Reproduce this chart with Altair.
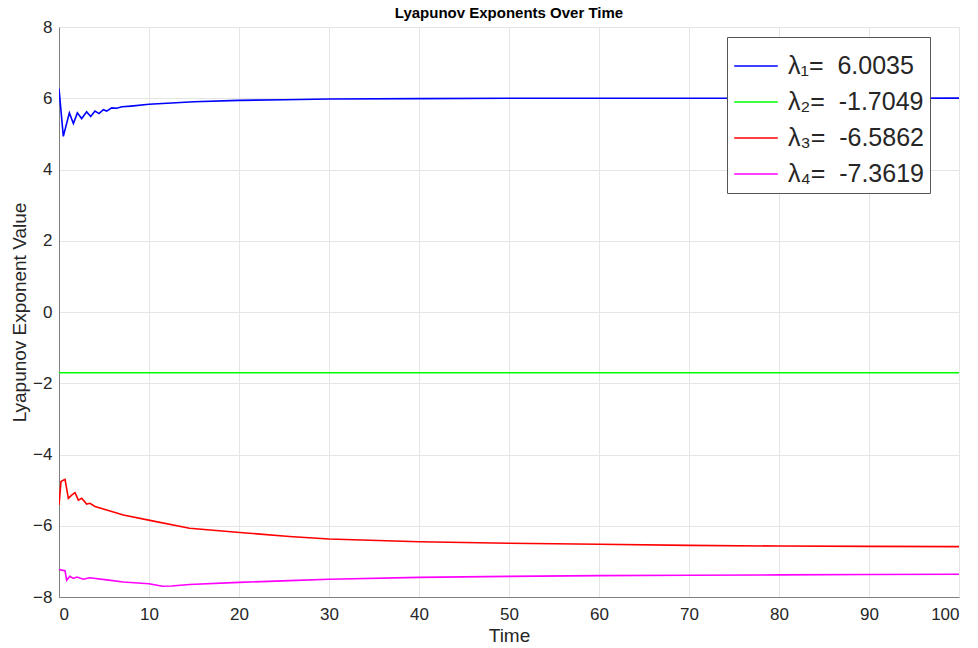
import altair as alt
import pandas as pd

# ---- data ----
NB = "\u00a0"
labels = [f"λ₁={NB}{NB}6.0035", f"λ₂={NB}{NB}-1.7049", f"λ₃={NB}{NB}-6.5862", f"λ₄={NB}{NB}-7.3619"]
colors = ["#0000ff", "#00ff00", "#ff0000", "#ff00ff"]

t1 = [0, 0.48, 1.15, 1.6, 2.04, 2.52, 3.07, 3.52, 4.0, 4.44, 4.93, 5.3, 5.85, 6.4,
      7, 8, 10, 12, 15, 20, 25, 30, 40, 50, 60, 70, 80, 90, 100]
v1 = [6.27, 4.93, 5.59, 5.29, 5.59, 5.43, 5.62, 5.49, 5.64, 5.57, 5.68, 5.64, 5.73, 5.72,
      5.76, 5.78, 5.83, 5.86, 5.90, 5.94, 5.96, 5.98, 5.99, 6.00, 6.00, 6.00, 6.00, 6.00, 6.0035]

t2 = [0, 100]
v2 = [-1.7049, -1.7049]

t3 = [0, 0.22, 0.48, 0.67, 1.04, 1.41, 1.78, 2.15, 2.52, 3.07, 3.44, 4.0, 5.3, 7.15,
      10.1, 14.5, 20.1, 25.6, 30, 40, 50, 60, 70, 80, 90, 100]
v3 = [-5.42, -4.76, -4.72, -4.70, -5.23, -5.14, -5.07, -5.28, -5.23, -5.39, -5.37, -5.46,
      -5.56, -5.70, -5.85, -6.07, -6.19, -6.30, -6.37, -6.45, -6.49, -6.52, -6.55, -6.57,
      -6.58, -6.5862]

t4 = [0, 0.67, 0.85, 1.2, 1.6, 2.0, 2.7, 3.4, 5.3, 7.15, 10, 11.5, 12.5, 14.5, 20, 25.6,
      30, 40, 50, 60, 70, 80, 90, 100]
v4 = [-7.23, -7.26, -7.53, -7.42, -7.48, -7.44, -7.50, -7.46, -7.52, -7.58, -7.63, -7.70,
      -7.69, -7.65, -7.59, -7.54, -7.50, -7.45, -7.42, -7.40, -7.39, -7.38, -7.37, -7.3619]

x_ticks = list(range(0, 101, 10))
y_ticks = list(range(-8, 9, 2))

rows = []
for lab, ts, vs in zip(labels, [t1, t2, t3, t4], [v1, v2, v3, v4]):
    for i, (t, v) in enumerate(zip(ts, vs)):
        rows.append({"series": lab, "t": t, "v": v, "order": i})
df = pd.DataFrame(rows)

FONT = "Liberation Sans"

chart = alt.Chart(df).mark_line(strokeWidth=1.6, clip=True).encode(
    x=alt.X("t:Q", scale=alt.Scale(domain=[0, 100], nice=False),
            axis=alt.Axis(title="Time", values=x_ticks, format="d")),
    y=alt.Y("v:Q", scale=alt.Scale(domain=[-8, 8], nice=False),
            axis=alt.Axis(title="Lyapunov Exponent Value", values=y_ticks, format="d")),
    color=alt.Color("series:N",
                    scale=alt.Scale(domain=labels, range=colors),
                    legend=alt.Legend(title=None, orient="none", legendX=668, legendY=10,
                                      symbolType="stroke", symbolSize=1900,
                                      symbolStrokeWidth=1.6, labelFontSize=25,
                                      labelFont=FONT, labelColor="#262626",
                                      labelOffset=9, rowPadding=0, padding=6,
                                      strokeColor="#555555", fillColor="white",
                                      labelLimit=300)),
    order="order:Q",
).properties(
    width=900, height=570,
    title=alt.TitleParams("Lyapunov Exponents Over Time", fontSize=15, font=FONT,
                          fontWeight="bold", color="#000000", offset=-3),
    autosize=alt.AutoSizeParams(type="none"),
    padding={"left": 59, "top": 27, "right": 19, "bottom": 51},
).configure_view(stroke=None).configure_axis(
    labelFont=FONT, labelFontSize=17, labelColor="#262626",
    titleFont=FONT, titleFontSize=19, titleColor="#262626", titleFontWeight="normal",
    domainColor="#808080", domainWidth=1, tickSize=0,
    gridColor="#e5e5e5", gridWidth=1,
).configure_axisX(titlePadding=4, labelPadding=9).configure_axisY(titlePadding=3, labelPadding=7)

chart.save("out.html", embed_options={"renderer": "svg", "actions": False})
